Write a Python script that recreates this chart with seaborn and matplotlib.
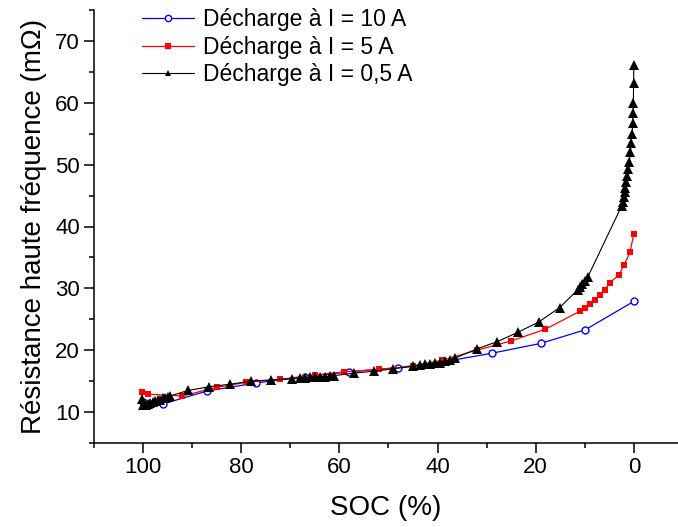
import numpy as np
import pandas as pd
import matplotlib
matplotlib.use("Agg")
import matplotlib.pyplot as plt
import seaborn as sns
from matplotlib.ticker import MultipleLocator

# SOC (%) / high-frequency resistance (mOhm)
soc_10A = [100.1, 96, 87, 77, 67, 58, 48, 39, 29, 19, 9.9, 0]
r_10A = [11.7, 11.3, 13.4, 14.7, 15.7, 16.5, 17.2, 18.1, 19.5, 21.1, 23.3, 27.9]

soc_5A = [100.2, 99, 92, 85, 79, 72, 65, 59, 52, 45, 39, 32, 25, 18, 11,
          10, 8.9, 7.9, 6.9, 5.9, 4.9, 3.0, 2.0, 0.8, 0]
r_5A = [13.2, 12.9, 12.6, 14.0, 14.8, 15.3, 16.0, 16.5, 16.9, 17.4, 18.4,
        20.0, 21.5, 23.4, 26.3, 26.8, 27.4, 28.1, 29.0, 29.8, 30.9, 32.2,
        33.8, 35.8, 38.8]

soc_05A = [100.3, 100, 99.5, 99, 98.5, 98, 97.5, 97, 96.5, 96, 95.5, 95, 94.5,
           90.8, 86.5, 82.3, 78, 74, 69.7, 68, 67, 66, 65, 64, 63, 62, 61,
           57, 53, 49, 45, 43.5, 42.5, 41.5, 40.5, 39.5, 38.5, 37.5, 36.5,
           32, 27.8, 23.6, 19.3, 15.1, 11.4, 11, 10.5, 10, 9.4,
           2.5, 2.3, 2.1, 1.9, 1.7, 1.5, 1.3, 1.1, 0.9, 0.7, 0.5, 0.35,
           0.25, 0.15, 0.1, 0.05, 0]
r_05A = [12.1, 11.1, 11.2, 11.3, 11.5, 11.6, 11.8, 11.9, 12.0, 12.2, 12.3, 12.5, 12.6,
         13.5, 14.1, 14.5, 15.0, 15.2, 15.4, 15.5, 15.55, 15.6, 15.65, 15.7, 15.75, 15.8, 15.9,
         16.3, 16.6, 17.0, 17.4, 17.6, 17.7, 17.8, 17.9, 18.0, 18.2, 18.4, 18.7,
         20.2, 21.4, 22.9, 24.6, 26.9, 29.8, 30.2, 30.7, 31.2, 31.8,
         43.3, 44.0, 44.8, 45.5, 46.3, 47.2, 48.2, 49.3, 50.5, 52.0, 53.5, 55.0,
         56.7, 58.3, 60.0, 63.2, 66.1]

labels = ["Décharge à I = 10 A", "Décharge à I = 5 A", "Décharge à I = 0,5 A"]

sns.set_style("ticks")
plt.rcParams['font.family'] = ['Liberation Sans', 'DejaVu Sans']
for k in ["text.color", "axes.labelcolor", "xtick.color", "ytick.color", "axes.edgecolor"]:
    plt.rcParams[k] = "black"

fig = plt.figure(figsize=(6.78, 5.27), dpi=100)
ax = fig.add_axes([94/678, 84/527, 584/678, 433/527])

sns.lineplot(x=soc_10A, y=r_10A, ax=ax, color="#0000ff", lw=0.9,
             marker="o", markersize=5, markerfacecolor="white",
             markeredgecolor="#0000ff", markeredgewidth=1.0,
             estimator=None, sort=False, label=labels[0])
sns.lineplot(x=soc_5A, y=r_5A, ax=ax, color="#ff0000", lw=0.9,
             marker="s", markersize=5, markeredgewidth=0,
             estimator=None, sort=False, label=labels[1])
sns.lineplot(x=soc_05A, y=r_05A, ax=ax, color="black", lw=0.8,
             marker="^", markersize=7, markeredgewidth=0,
             estimator=None, sort=False, label=labels[2])

ax.set_xlim(110, -9)
ax.set_ylim(5, 75)
ax.xaxis.set_minor_locator(MultipleLocator(10))
ax.yaxis.set_minor_locator(MultipleLocator(5))
ax.set_xticks([100, 80, 60, 40, 20, 0])
ax.set_yticks([10, 20, 30, 40, 50, 60, 70])

ax.tick_params(which="major", direction="out", length=7, width=1.1,
               labelsize=16, pad=3)
ax.tick_params(which="minor", direction="out", length=3.5, width=1.1)
for s in ["left", "bottom"]:
    ax.spines[s].set_linewidth(1.1)
sns.despine(ax=ax)

ax.set_xlabel("SOC (%)", fontsize=20, labelpad=12)
ax.set_ylabel("Résistance haute fréquence (mΩ)", fontsize=20, labelpad=6)

leg = ax.legend(loc="upper left", bbox_to_anchor=(142/678, 1 - 8/527),
                bbox_transform=fig.transFigure, frameon=False, fontsize=16.5,
                handlelength=2.27, handletextpad=0.4, labelspacing=0.2,
                borderpad=0, borderaxespad=0)
for h in leg.legend_handles:
    h.set_markersize(4.5)

fig.savefig("out.png", dpi=100)
